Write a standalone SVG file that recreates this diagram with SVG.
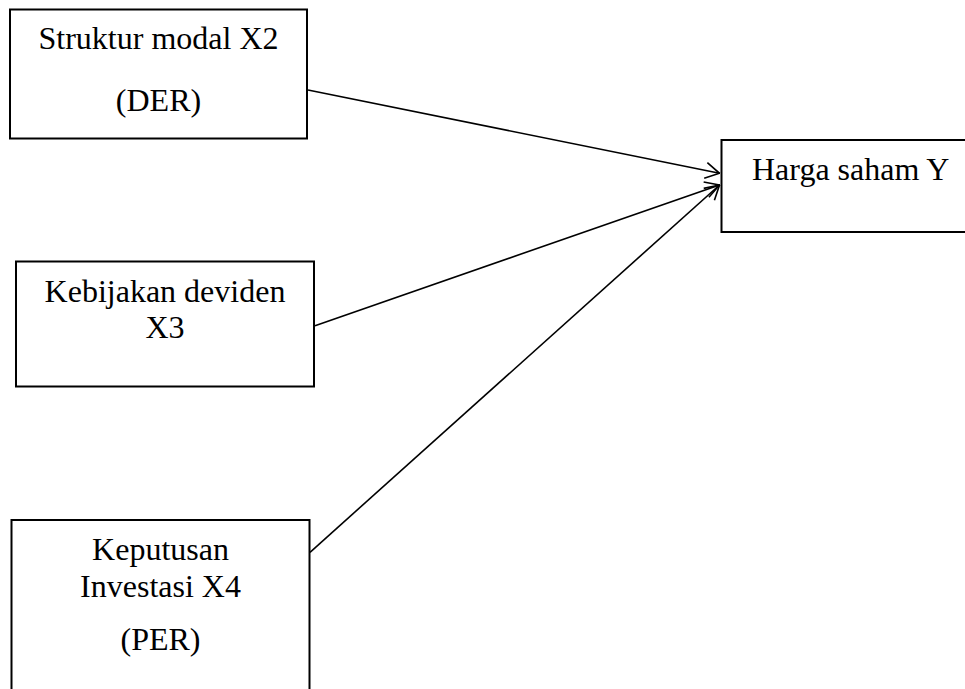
<svg xmlns="http://www.w3.org/2000/svg" width="965" height="689" viewBox="0 0 965 689">
<style>
.box{fill:#fff;stroke:#000;stroke-width:2}
.t{font-family:"Liberation Serif","Times New Roman",serif;font-size:32px;fill:#000;text-anchor:middle}
.edge{stroke:#000;stroke-width:1.6;fill:none;marker-end:url(#arr)}
</style>
<defs>
<marker id="arr" viewBox="0 0 16 18" refX="15" refY="9" markerWidth="16" markerHeight="18" markerUnits="userSpaceOnUse" orient="auto">
<path d="M1,1 L15,9 L1,17" fill="none" stroke="#000" stroke-width="1.6"/>
</marker>
</defs>
<rect width="965" height="689" fill="#fff"/>
<g id="x2">
<rect class="box" x="10" y="9.5" width="297" height="129"/>
<text class="t" x="158.5" y="49">Struktur modal X2</text>
<text class="t" x="158.5" y="111">(DER)</text>
</g>
<g id="y">
<rect class="box" x="721.5" y="140" width="260" height="92"/>
<text class="t" x="752" y="180" style="text-anchor:start">Harga saham Y</text>
</g>
<g id="x3">
<rect class="box" x="16" y="261.5" width="298" height="125"/>
<text class="t" x="165" y="302">Kebijakan deviden</text>
<text class="t" x="165" y="338">X3</text>
</g>
<g id="x4">
<rect class="box" x="11.5" y="520" width="298" height="200"/>
<text class="t" x="160.5" y="560">Keputusan</text>
<text class="t" x="160.5" y="597">Investasi X4</text>
<text class="t" x="160.5" y="650">(PER)</text>
</g>
<g id="connectors">
<line class="edge" x1="308" y1="90" x2="719.5" y2="173.3"/>
<line class="edge" x1="315" y1="325.7" x2="719.5" y2="185"/>
<line class="edge" x1="310" y1="552.3" x2="719.5" y2="185"/>
</g>
</svg>
